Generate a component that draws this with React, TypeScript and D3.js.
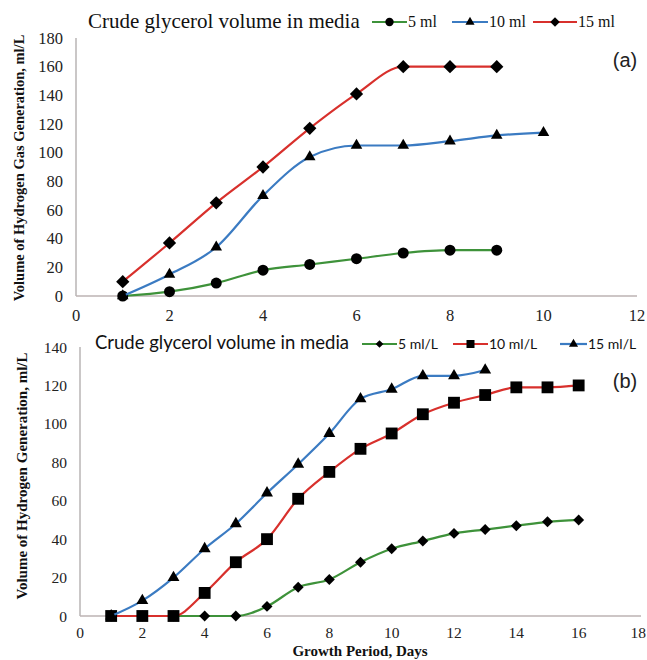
import { useEffect, useRef } from "react";
import * as d3 from "d3";

// ----- Data -----
const DAYS_A = [1, 2, 3, 4, 5, 6, 7, 8, 9, 10];
const A_5ML = [0, 3, 9, 18, 22, 26, 30, 32, 32];
const A_10ML = [0, 15, 34, 70, 97, 105, 105, 108, 112, 114];
const A_15ML = [10, 37, 65, 90, 117, 141, 160, 160, 160];
const A_X_TICKS = [0, 2, 4, 6, 8, 10, 12];
const A_Y_TICKS = [0, 20, 40, 60, 80, 100, 120, 140, 160, 180];

const DAYS_B = [1, 2, 3, 4, 5, 6, 7, 8, 9, 10, 11, 12, 13, 14, 15, 16];
const B_5ML = [0, 0, 0, 0, 0, 5, 15, 19, 28, 35, 39, 43, 45, 47, 49, 50];
const B_10ML = [0, 0, 0, 12, 28, 40, 61, 75, 87, 95, 105, 111, 115, 119, 119, 120];
const B_15ML = [0, 8, 20, 35, 48, 64, 79, 95, 113, 118, 125, 125, 128];
const B_X_TICKS = [0, 2, 4, 6, 8, 10, 12, 14, 16, 18];
const B_Y_TICKS = [0, 20, 40, 60, 80, 100, 120, 140];

const RED = "#d8302c";
const BLUE = "#3b7bc2";
const GREEN = "#3e923a";
const SERIF = "'Liberation Serif', 'Times New Roman', serif";
const SANS = "Lato, 'Liberation Sans', sans-serif";

const PANEL_A = {
  xDomain: [0, 12], xRange: [76, 637],
  yDomain: [0, 180], yRange: [296, 38],
  xTicks: A_X_TICKS, yTicks: A_Y_TICKS,
  tickFont: 16.5, xLabelDy: 25,
  series: [
    { label: "5 ml", values: A_5ML, color: GREEN, shape: "circle", size: 95 },
    { label: "10 ml", values: A_10ML, color: BLUE, shape: "triangle", size: 58 },
    { label: "15 ml", values: A_15ML, color: RED, shape: "diamond", size: 88 },
  ],
  days: DAYS_A,
};

const PANEL_B = {
  xDomain: [0, 18], xRange: [80, 641],
  yDomain: [0, 140], yRange: [616, 347],
  xTicks: B_X_TICKS, yTicks: B_Y_TICKS,
  tickFont: 15.5, xLabelDy: 22,
  series: [
    { label: "5 ml/L", values: B_5ML, color: GREEN, shape: "diamond", size: 60 },
    { label: "10 ml/L", values: B_10ML, color: RED, shape: "square", size: 140 },
    { label: "15 ml/L", values: B_15ML, color: BLUE, shape: "triangle", size: 62 },
  ],
  days: DAYS_B,
};

function symbolPath(shape, size) {
  const type =
    shape === "circle" ? d3.symbolCircle :
    shape === "triangle" ? d3.symbolTriangle : d3.symbolSquare;
  return d3.symbol().type(type).size(size)();
}

function drawPanel(svg, p) {
  const x = d3.scaleLinear().domain(p.xDomain).range(p.xRange);
  const y = d3.scaleLinear().domain(p.yDomain).range(p.yRange);
  const g = svg.append("g");

  // axes lines (no tick marks, Excel style)
  g.append("line")
    .attr("x1", x(0)).attr("x2", x(0))
    .attr("y1", y(p.yDomain[1])).attr("y2", y(0))
    .attr("stroke", "#b8b4b4").attr("stroke-width", 1.5);
  g.append("line")
    .attr("x1", x(0)).attr("x2", x(p.xDomain[1]))
    .attr("y1", y(0)).attr("y2", y(0))
    .attr("stroke", "#bdb3b3").attr("stroke-width", 1.5);

  g.selectAll(".yt").data(p.yTicks).enter().append("text")
    .attr("x", x(0) - 13).attr("y", (d) => y(d) + 5.5)
    .attr("text-anchor", "end")
    .attr("font-family", SERIF).attr("font-size", p.tickFont).attr("fill", "#222")
    .text((d) => d);

  // keep the last label inside the 647px picture
  g.selectAll(".xt").data(p.xTicks).enter().append("text")
    .attr("x", (d) => Math.min(x(d), 646 - p.tickFont * 0.5))
    .attr("y", y(0) + p.xLabelDy)
    .attr("text-anchor", "middle")
    .attr("font-family", SERIF).attr("font-size", p.tickFont).attr("fill", "#222")
    .text((d) => d);

  // ----- series -----
  const line = d3.line()
    .x((d, i) => x(p.days[i]))
    .y((d) => y(d))
    .curve(d3.curveMonotoneX);

  p.series.forEach((s) => {
    g.append("path")
      .datum(s.values)
      .attr("fill", "none")
      .attr("stroke", s.color)
      .attr("stroke-width", 2.2)
      .attr("d", line);
    g.selectAll(null).data(s.values).enter().append("path")
      .attr("d", symbolPath(s.shape, s.size))
      .attr("transform", (d, i) =>
        `translate(${x(p.days[i])},${y(d)})` + (s.shape === "diamond" ? " rotate(45)" : ""))
      .attr("fill", "#000");
  });
  return g;
}

function drawLegendItem(g, s, x0, y0, lineW, size) {
  g.append("line")
    .attr("x1", x0).attr("x2", x0 + lineW)
    .attr("y1", y0).attr("y2", y0)
    .attr("stroke", s.color).attr("stroke-width", 2.2);
  g.append("path")
    .attr("d", symbolPath(s.shape, size))
    .attr("transform", `translate(${x0 + lineW / 2},${y0})` + (s.shape === "diamond" ? " rotate(45)" : ""))
    .attr("fill", "#000");
}

export default function App() {
  const svgRef = useRef(null);

  useEffect(() => {
    const svg = d3.select(svgRef.current);
    svg.selectAll("*").remove();

    // ----- Panel (a) -----
    const ga = drawPanel(svg, PANEL_A);
    ga.append("text")
      .attr("x", 88).attr("y", 28)
      .attr("font-family", SERIF).attr("font-size", 21).attr("fill", "#111")
      .text("Crude glycerol volume in media");
    const legA = [[372, 407], [452, 488], [533, 577]];
    PANEL_A.series.forEach((s, i) => {
      const [lx, tx] = legA[i];
      const sz = s.shape === "circle" ? 55 : s.shape === "triangle" ? 36 : 45;
      drawLegendItem(ga, s, lx, 22, tx - lx, sz);
      ga.append("text")
        .attr("x", tx + 1).attr("y", 27)
        .attr("font-family", SERIF).attr("font-size", 16).attr("fill", "#111")
        .text(s.label);
    });
    ga.append("text")
      .attr("x", 625).attr("y", 67)
      .attr("text-anchor", "middle")
      .attr("font-family", "'Liberation Sans', Arial, sans-serif").attr("font-size", 20)
      .attr("fill", "#222")
      .text("(a)");
    ga.append("text")
      .attr("transform", "rotate(-90)")
      .attr("x", -168).attr("y", 24)
      .attr("text-anchor", "middle")
      .attr("font-family", SERIF).attr("font-size", 14.5).attr("font-weight", "bold")
      .attr("fill", "#111")
      .text("Volume of Hydrogen Gas Generation, ml/L");

    // ----- Panel (b) -----
    const gb = drawPanel(svg, PANEL_B);
    gb.append("text")
      .attr("x", 95).attr("y", 349)
      .attr("font-family", SANS).attr("font-size", 18.5).attr("fill", "#111")
      .text("Crude glycerol volume in media");
    const legB = [[362, 397], [453, 488], [560, 587]];
    PANEL_B.series.forEach((s, i) => {
      const [lx, tx] = legB[i];
      const sz = s.shape === "square" ? 64 : s.shape === "triangle" ? 36 : 30;
      drawLegendItem(gb, s, lx, 344, tx - lx, sz);
      gb.append("text")
        .attr("x", tx + 1).attr("y", 349)
        .attr("font-family", SANS).attr("font-size", 14).attr("fill", "#111")
        .text(s.label);
    });
    gb.append("text")
      .attr("x", 625).attr("y", 388)
      .attr("text-anchor", "middle")
      .attr("font-family", "'Liberation Sans', Arial, sans-serif").attr("font-size", 20)
      .attr("fill", "#222")
      .text("(b)");
    gb.append("text")
      .attr("transform", "rotate(-90)")
      .attr("x", -476).attr("y", 27)
      .attr("text-anchor", "middle")
      .attr("font-family", SERIF).attr("font-size", 15).attr("font-weight", "bold")
      .attr("fill", "#111")
      .text("Volume of Hydrogen Generation, ml/L");
    gb.append("text")
      .attr("x", 360).attr("y", 656)
      .attr("text-anchor", "middle")
      .attr("font-family", SERIF).attr("font-size", 15).attr("font-weight", "bold")
      .attr("fill", "#111")
      .text("Growth Period, Days");
  }, []);

  return (
    <svg
      ref={svgRef}
      width={647}
      height={660}
      style={{ position: "absolute", left: 0, top: 0, background: "#fff" }}
    />
  );
}
